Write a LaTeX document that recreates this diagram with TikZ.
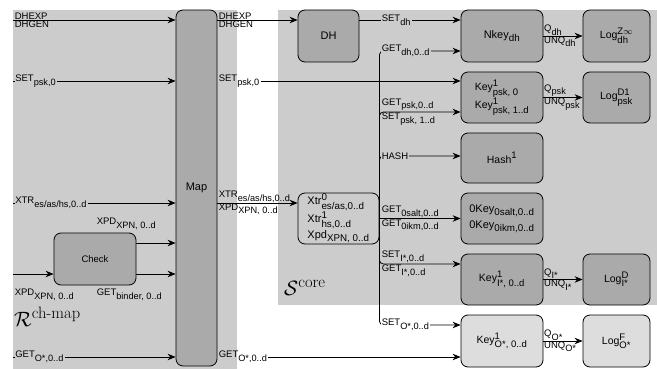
\documentclass[tikz,border=0pt]{standalone}
\usepackage{amsmath}
\usepackage[no-math]{fontspec}
\setmainfont{Liberation Sans}
\usetikzlibrary{arrows.meta,calc}
\DeclareMathSizes{9.5}{9.5}{9.2}{7}
\DeclareMathSizes{10.5}{10.5}{9.5}{7}
\DeclareMathSizes{11}{11}{9.8}{7.5}
\DeclareMathSizes{21}{21}{16.5}{12}
\definecolor{bg}{HTML}{CCCCCC}
\definecolor{boxc}{HTML}{AAAAAA}
\definecolor{boxl}{HTML}{DDDDDD}
\newcommand{\Lsb}[2]{$\text{#1}_{\text{#2}}$}
\newcommand{\Lsp}[3]{$\text{#1}^{\text{#2}}_{\text{#3}}$}
\tikzset{
  boxn/.style={draw=black, line width=0.8pt, rounded corners=7pt, fill=boxc, inner sep=0pt,
    align=center, font=\fontsize{10.5}{15.5}\selectfont},
  bigf/.style={font=\fontsize{11}{16.5}\selectfont},
  arr/.style={draw, line width=0.8pt, -{Stealth[length=8pt,width=6.5pt]}},
  rc/.style={rounded corners=4pt},
  lbl/.style={inner sep=0.6pt, font=\fontsize{9.5}{11}\selectfont},
}
\begin{document}
\begin{tikzpicture}[x=1pt,y=-1pt]
\useasboundingbox (0,0) rectangle (657,369);
% regions
\fill[bg] (13,10) rectangle (237,369);
\fill[bg] (278,10) rectangle (657,305);
% nodes
\node[boxn, bigf, minimum width=41pt, minimum height=356pt] (map) at (196.5,188) {Map};
\node[boxn, minimum width=82pt, minimum height=52pt, font=\fontsize{9.5}{11}\selectfont] (check) at (95,259) {Check};
\node[boxn, bigf, minimum width=61pt, minimum height=52pt] (dh) at (328.5,36) {DH};
\node[boxn, fill=bg, minimum width=81pt, minimum height=51pt, align=left, font=\fontsize{11}{16}\selectfont] (xtr) at (338.5,218.5)
  {\Lsp{Xtr}{0}{es/as,0..d}\\ \Lsp{Xtr}{1}{hs,0..d}\\ \Lsb{Xpd}{XPN, 0..d}};
\node[boxn, bigf, minimum width=82pt, minimum height=52pt] (nkey) at (502,36) {\Lsb{Nkey}{dh}};
\node[boxn, minimum width=82pt, minimum height=51pt, align=left] (keypsk) at (502,97.5)
  {\Lsp{Key}{1}{psk, 0}\\ \Lsp{Key}{1}{psk, 1..d}};
\node[boxn, minimum width=82pt, minimum height=50pt] (hash) at (502,158) {$\text{Hash}^{\text{1}}$};
\node[boxn, minimum width=82pt, minimum height=51pt, align=left, font=\fontsize{11}{16}\selectfont] (zkey) at (502,218.5)
  {\Lsb{0Key}{0salt,0..d}\\ \Lsb{0Key}{0ikm,0..d}};
\node[boxn, minimum width=82pt, minimum height=51pt] (keyI) at (502,279.5) {\Lsp{Key}{1}{I*, 0..d}};
\node[boxn, fill=boxl, minimum width=82pt, minimum height=52pt] (keyO) at (502,341) {\Lsp{Key}{1}{O*, 0..d}};
\node[boxn, minimum width=67pt, minimum height=52pt] (logdh) at (616.5,36) {\Lsp{Log}{Z$\infty$}{dh}};
\node[boxn, minimum width=67pt, minimum height=51pt] (logpsk) at (616.5,97.5) {\Lsp{Log}{D1}{psk}};
\node[boxn, minimum width=67pt, minimum height=51pt] (logI) at (616.5,279.5) {\Lsp{Log}{D}{I*}};
\node[boxn, fill=boxl, minimum width=67pt, minimum height=52pt] (logO) at (616.5,341) {\Lsp{Log}{F}{O*}};
% region labels
\node[anchor=base west, inner sep=0pt, font=\fontsize{21}{25}\selectfont] (rlab) at (14,326)
  {$\mathcal{R}^{\text{\fontfamily{lmr}\selectfont ch-map}}$};
\node[anchor=base west, inner sep=0pt, font=\fontsize{21}{25}\selectfont] (slab) at (284,295)
  {$\mathcal{S}^{\text{\fontfamily{lmr}\selectfont core}}$};
% left inputs
\coordinate (lDH) at (13,20);
\draw[arr] (lDH) -- (lDH -| map.west);
\node[lbl, anchor=south west] (tdhexp) at (14,20) {DHEXP};
\node[lbl, anchor=north west] (tdhgen) at (14,20) {DHGEN};
\coordinate (lSET) at (13,81);
\draw[arr] (lSET) -- (lSET -| map.west);
\node[lbl, fill=bg, anchor=west] (tlset) at (14.5,81) {\Lsb{SET}{psk,0}};
\coordinate (lXTR) at (13,203);
\draw[arr] (lXTR) -- (lXTR -| map.west);
\node[lbl, fill=bg, anchor=west] (tlxtr) at (14.5,203) {\Lsb{XTR}{es/as/hs,0..d}};
\draw[arr] ($(check.east)+(0,-16)$) coordinate (c1) -- (c1 -| map.west);
\draw[arr] ($(check.east)+(0,15)$) coordinate (c2) -- (c2 -| map.west);
\coordinate (lCk) at (13,274);
\draw[arr] (lCk) -- (lCk -| check.west);
\node[lbl, anchor=west] (tcxpd) at (96,224) {\Lsb{XPD}{XPN, 0..d}};
\node[lbl, anchor=west] (tcget) at (96,295) {\Lsb{GET}{binder, 0..d}};
\node[lbl, anchor=west] (tlxpd) at (14,295) {\Lsb{XPD}{XPN, 0..d}};
\coordinate (lGET) at (13,357);
\draw[arr] (lGET) -- (lGET -| map.west);
\node[lbl, fill=bg, anchor=west] (tlget) at (14.5,357) {\Lsb{GET}{O*,0..d}};
% right of map
\draw[arr] (map.east |- lDH) -- (dh.west |- lDH);
\node[lbl, anchor=south west] (trdhexp) at (218,20) {DHEXP};
\node[lbl, anchor=north west] (trdhgen) at (218,20) {DHGEN};
\node[lbl, anchor=west] (trset) at (218,81) {\Lsb{SET}{psk,0}};
\draw[arr] (trset.east) -- (trset.east -| keypsk.west);
\draw[arr] (map.east |- lXTR) -- (xtr.west |- lXTR);
\node[lbl, anchor=south west] (trxtr) at (218,203) {\Lsb{XTR}{es/as/hs,0..d}};
\node[lbl, anchor=north west] (trxpd) at (218,203) {\Lsb{XPD}{XPN, 0..d}};
\node[lbl, anchor=west] (trget) at (218,357) {\Lsb{GET}{O*,0..d}};
\draw[arr] (trget.east) -- (trget.east -| keyO.west);
% DH -> Nkey
\draw[arr] (dh.east |- lDH) -- (nkey.west |- lDH);
\node[lbl, fill=bg, anchor=west] (tsetdh) at (381,20) {\Lsb{SET}{dh}};
% bus from Xtr
\draw[arr, rc] (xtr.east) |- (nkey.west |- 0,51);
\draw[arr, rc] (xtr.east) |- (keypsk.west |- 0,112);
\draw[arr, rc] (xtr.east) |- (hash.west |- 0,156);
\draw[arr] (xtr.east) -- (zkey.west |- xtr.east);
\draw[arr, rc] (xtr.east) |- (keyI.west |- 0,264);
\draw[arr, rc] (xtr.east) |- (keyO.west |- 0,325);
\node[lbl, fill=bg, anchor=west] (tgetdh) at (381,51) {\Lsb{GET}{dh,0..d}};
\node[lbl, anchor=south west] (tgetpsk) at (381,111.5) {\Lsb{GET}{psk,0..d}};
\node[lbl, anchor=north west] (tsetpsk) at (381,112.5) {\Lsb{SET}{psk, 1..d}};
\node[lbl, fill=bg, anchor=west] (thash) at (381,156) {HASH};
\node[lbl, anchor=south west] (tgs) at (381,218) {\Lsb{GET}{0salt,0..d}};
\node[lbl, anchor=north west] (tgi) at (381,219) {\Lsb{GET}{0ikm,0..d}};
\node[lbl, anchor=south west] (tseti) at (381,263.5) {\Lsb{SET}{I*,0..d}};
\node[lbl, anchor=north west] (tgeti) at (381,264.5) {\Lsb{GET}{I*,0..d}};
\node[lbl, fill=white, anchor=west] (tseto) at (381,325) {\Lsb{SET}{O*,0..d}};
% key -> log
\draw[arr] (nkey.east) -- (logdh.west);
\node[lbl, anchor=south west] (tq1) at (nkey.east) {\Lsb{Q}{dh}};
\node[lbl, anchor=north west] (tu1) at (nkey.east) {\Lsb{UNQ}{dh}};
\draw[arr] (keypsk.east) -- (logpsk.west);
\node[lbl, anchor=south west] (tq2) at (keypsk.east) {\Lsb{Q}{psk}};
\node[lbl, anchor=north west] (tu2) at (keypsk.east) {\Lsb{UNQ}{psk}};
\draw[arr] (keyI.east) -- (logI.west);
\node[lbl, anchor=south west] (tq3) at (keyI.east) {\Lsb{Q}{I*}};
\node[lbl, anchor=north west] (tu3) at (keyI.east) {\Lsb{UNQ}{I*}};
\draw[arr] (keyO.east) -- (logO.west);
\node[lbl, anchor=south west] (tq4) at (keyO.east) {\Lsb{Q}{O*}};
\node[lbl, anchor=north west] (tu4) at (keyO.east) {\Lsb{UNQ}{O*}};
\end{tikzpicture}
\end{document}
